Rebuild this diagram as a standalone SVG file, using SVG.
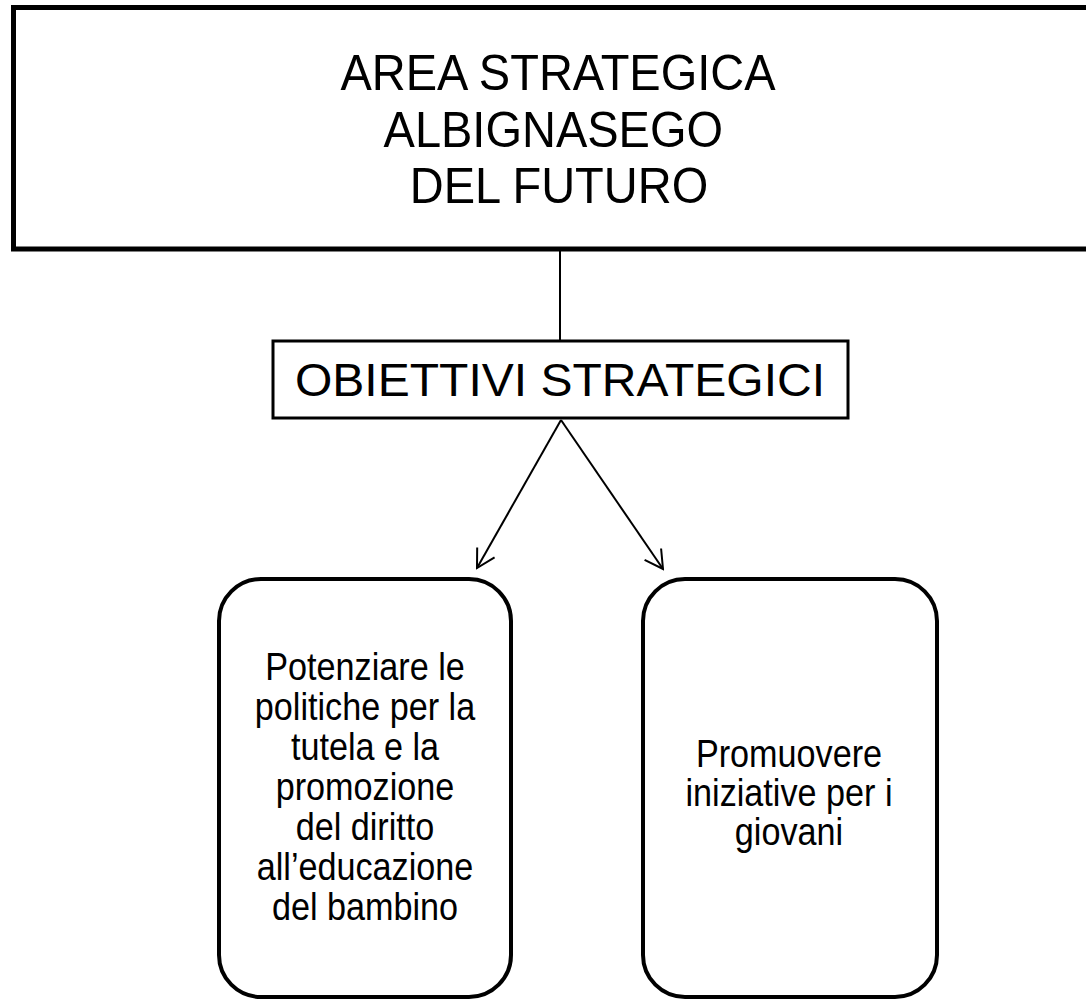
<svg xmlns="http://www.w3.org/2000/svg" width="1086" height="999" viewBox="0 0 1086 999">
  <style>
    text { font-family: "Liberation Sans", Arial, sans-serif; fill: #000; text-anchor: middle; }
    .big { font-size: 50px; }
    .mid { font-size: 47px; }
    .small { font-size: 38px; }
    .box { fill: #fff; stroke: #000; }
    .conn { stroke: #000; fill: none; }
  </style>
  <defs>
    <marker id="arr" markerUnits="userSpaceOnUse" viewBox="-20 -12 22 24" markerWidth="22" markerHeight="24" refX="0" refY="0" orient="auto">
      <path d="M-18,-10 L0,0 L-18,10" fill="none" stroke="#000" stroke-width="2"/>
    </marker>
  </defs>
  <rect width="1086" height="999" fill="#fff"/>
  <g id="area">
    <rect class="box" x="13.5" y="7.5" width="1100" height="241.5" stroke-width="5"/>
    <g transform="translate(558 0) scale(0.94 1)">
      <text class="big" x="0" y="90">AREA STRATEGICA</text>
      <text class="big" x="-5" y="147">ALBIGNASEGO</text>
      <text class="big" x="1" y="203">DEL FUTURO</text>
    </g>
  </g>
  <g id="obiettivi">
    <rect class="box" x="273" y="341" width="575" height="77" stroke-width="3"/>
    <text class="mid" x="560" y="396" textLength="530" lengthAdjust="spacingAndGlyphs">OBIETTIVI STRATEGICI</text>
  </g>
  <g id="obj1">
    <rect class="box" x="219" y="579" width="292" height="418" rx="42" ry="42" stroke-width="4"/>
    <g transform="translate(365 0) scale(0.9 1)">
      <text class="small" x="0" y="680">Potenziare le</text>
      <text class="small" x="0" y="720">politiche per la</text>
      <text class="small" x="0" y="760">tutela e la</text>
      <text class="small" x="0" y="800">promozione</text>
      <text class="small" x="0" y="840">del diritto</text>
      <text class="small" x="0" y="880">all’educazione</text>
      <text class="small" x="0" y="920">del bambino</text>
    </g>
  </g>
  <g id="obj2">
    <rect class="box" x="643" y="579" width="294" height="418" rx="42" ry="42" stroke-width="4"/>
    <g transform="translate(789 0) scale(0.9 1)">
      <text class="small" x="0" y="767">Promuovere</text>
      <text class="small" x="0" y="806">iniziative per i</text>
      <text class="small" x="0" y="845">giovani</text>
    </g>
  </g>
  <g id="connectors">
    <line class="conn" x1="560" y1="251" x2="560" y2="341" stroke-width="2"/>
    <line class="conn" x1="561" y1="420" x2="477" y2="568" stroke-width="2" marker-end="url(#arr)"/>
    <line class="conn" x1="561" y1="420" x2="663" y2="569" stroke-width="2" marker-end="url(#arr)"/>
  </g>
</svg>
